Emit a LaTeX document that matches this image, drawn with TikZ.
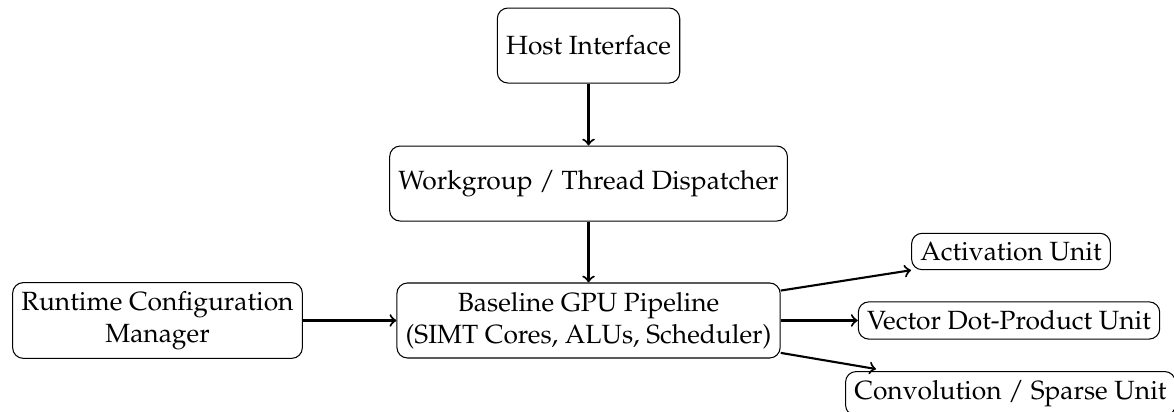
\documentclass[tikz,border=0pt]{standalone}
\IfFileExists{mathpazo.sty}{\usepackage[T1]{fontenc}\usepackage{mathpazo}}{\usepackage{fontspec}\setmainfont{Liberation Serif}}
\begin{document}
\begin{tikzpicture}[
  box/.style={draw, rounded corners, minimum height=1cm, align=center, line width=0.4pt},
  unit/.style={draw, rounded corners, align=center, line width=0.4pt},
  arr/.style={->, thick}
]
\useasboundingbox (0,0) rectangle (15.653,-5.493);
\node[box] (host) at (7.847,-0.607) {Host Interface};
\node[box] (work) at (7.847,-2.447) {Workgroup / Thread Dispatcher};
\node[box] (base) at (7.847,-4.273) {Baseline GPU Pipeline\\(SIMT Cores, ALUs, Scheduler)};
\node[box] (rt) at (2.1,-4.273) {Runtime Configuration\\Manager};
\node[unit] (act) at (13.48,-3.353) {Activation Unit};
\node[unit] (vec) at (13.453,-4.273) {Vector Dot-Product Unit};
\node[unit, anchor=north west] (conv) at (11.267,-4.947) {Convolution / Sparse Unit};
\coordinate (convend) at (11.68,-4.92);
\draw[arr] (host) -- (work);
\draw[arr] (work) -- (base);
\draw[arr] (rt) -- (base);
\draw[arr] (base) -- (act.south west);
\draw[arr] (base) -- (vec);
\draw[arr] (base) -- (convend);
\end{tikzpicture}
\end{document}
